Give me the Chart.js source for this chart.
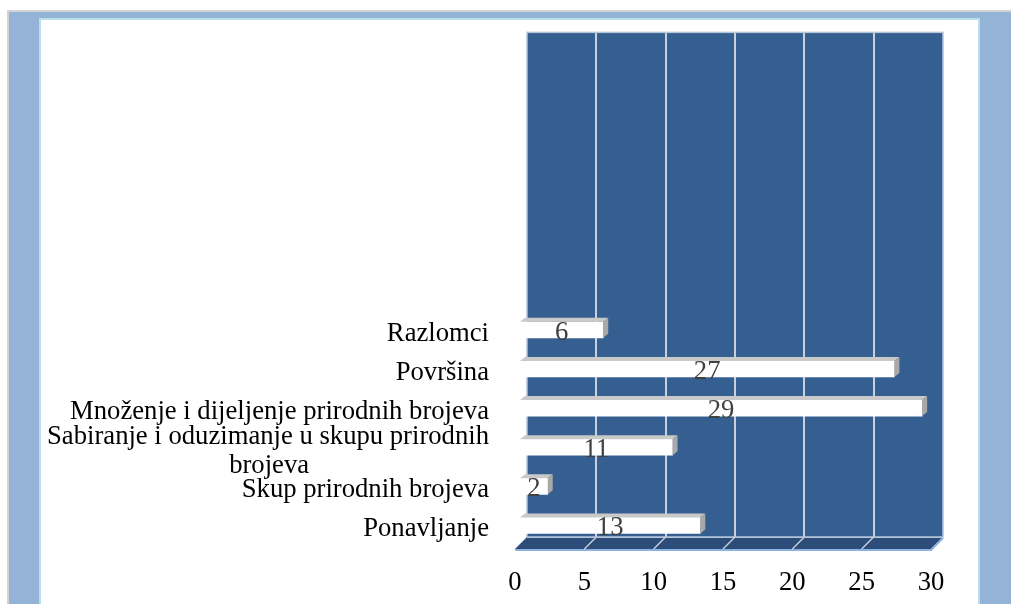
<!DOCTYPE html>
<html><head><meta charset="utf-8">
<script src="https://cdn.jsdelivr.net/npm/chart.js@4/dist/chart.umd.min.js"></script>
<style>
html,body{margin:0;padding:0;background:#fff;width:1011px;height:604px;overflow:hidden}
#frame{position:absolute;left:7px;top:10px;width:1004px;height:594px;background:#95b3d7;border-top:2px solid #d3d3d3;border-left:2px solid #d3d3d3;box-sizing:border-box}
#panel{position:absolute;left:39px;top:18px;width:941px;height:600px;background:#fff;border:2px solid #b9e0ea;box-sizing:border-box}
canvas{position:absolute;left:0;top:0}
</style></head><body>
<div id="frame"></div><div id="panel"></div>
<canvas id="c" width="1011" height="604"></canvas>
<script>
// ---- data ----
const categories = ['Ponavljanje', 'Skup prirodnih brojeva', ['Sabiranje i oduzimanje u skupu prirodnih', 'brojeva'], 'Množenje i dijeljenje prirodnih brojeva', 'Površina', 'Razlomci'];
const values = [13, 2, 11, 29, 27, 6];
const xTicks = [0, 5, 10, 15, 20, 25, 30];
const slotCount = 13; // category slots on the axis (upper ones empty)

const FONT = '"Liberation Serif", "Times New Roman", serif';
const FS = 26.67;
const mctx = document.createElement('canvas').getContext('2d');
function centerLines(lines, px) {
  mctx.font = px + 'px ' + FONT;
  const w = lines.map(l => mctx.measureText(l).width);
  const max = Math.max(...w);
  const sp = mctx.measureText(' ').width;
  return lines.map((l, i) => l + ' '.repeat(Math.round((max - w[i]) / 2 / sp)));
}

const DEPTH = {x: 12, y: -12};
const BAR = {x: 5, y: -4};

const threeD = {
  id: 'threeD',
  beforeDatasetsDraw(chart) {
    const {ctx, chartArea: ca, scales: {x}} = chart;
    ctx.save();
    // back wall
    const wl = ca.left + DEPTH.x, wr = ca.right + DEPTH.x;
    const wt = ca.top - 8, wb = ca.bottom + DEPTH.y;
    ctx.fillStyle = '#365f91';
    ctx.fillRect(wl, wt, wr - wl, wb - wt);
    // gridlines on wall
    ctx.strokeStyle = '#cbd1da';
    ctx.lineWidth = 2;
    xTicks.forEach(v => {
      if (v === 0 || v === 30) return;
      const px = Math.round(x.getPixelForValue(v)) + DEPTH.x;
      ctx.beginPath(); ctx.moveTo(px, wt); ctx.lineTo(px, wb); ctx.stroke();
    });
    ctx.strokeStyle = '#b4c4da';
    ctx.lineWidth = 1.5;
    ctx.strokeRect(wl, wt, wr - wl, wb - wt);
    // floor
    ctx.fillStyle = '#2c4d7a';
    ctx.beginPath();
    ctx.moveTo(ca.left, ca.bottom);
    ctx.lineTo(ca.right, ca.bottom);
    ctx.lineTo(ca.right + DEPTH.x, ca.bottom + DEPTH.y);
    ctx.lineTo(ca.left + DEPTH.x, ca.bottom + DEPTH.y);
    ctx.closePath();
    ctx.fill();
    ctx.strokeStyle = '#b4c4da';
    ctx.lineWidth = 1;
    ctx.beginPath();
    ctx.moveTo(ca.left + DEPTH.x, ca.bottom + DEPTH.y + 0.5);
    ctx.lineTo(ca.right + DEPTH.x, ca.bottom + DEPTH.y + 0.5);
    ctx.stroke();
    ctx.strokeStyle = '#c5cdd8';
    ctx.lineWidth = 1.5;
    xTicks.forEach(v => {
      if (v === 0 || v === 30) return;
      const px = x.getPixelForValue(v);
      ctx.beginPath(); ctx.moveTo(px, ca.bottom); ctx.lineTo(px + DEPTH.x, ca.bottom + DEPTH.y); ctx.stroke();
    });
    ctx.strokeStyle = '#8db3e2';
    ctx.lineWidth = 2;
    ctx.beginPath();
    ctx.moveTo(ca.left, ca.bottom + 1);
    ctx.lineTo(ca.right, ca.bottom + 1);
    ctx.lineTo(ca.right + DEPTH.x, ca.bottom + DEPTH.y + 1);
    ctx.stroke();
    ctx.restore();
    ctx.save();
    ctx.translate(BAR.x, BAR.y);
  },
  afterDatasetsDraw(chart) {
    const {ctx} = chart;
    const meta = chart.getDatasetMeta(0);
    meta.data.forEach((el, i) => {
      const p = el.getProps(['x', 'y', 'base', 'height'], true);
      const top = p.y - p.height / 2, bot = p.y + p.height / 2;
      // top face
      ctx.fillStyle = '#c9c9c9';
      ctx.beginPath();
      ctx.moveTo(p.base, top); ctx.lineTo(p.x, top);
      ctx.lineTo(p.x + BAR.x, top + BAR.y); ctx.lineTo(p.base + BAR.x, top + BAR.y);
      ctx.closePath(); ctx.fill();
      // right face
      ctx.fillStyle = '#a9a9a9';
      ctx.beginPath();
      ctx.moveTo(p.x, top); ctx.lineTo(p.x + BAR.x, top + BAR.y);
      ctx.lineTo(p.x + BAR.x, bot + BAR.y); ctx.lineTo(p.x, bot);
      ctx.closePath(); ctx.fill();
      // value label
      ctx.fillStyle = '#404040';
      ctx.font = FS + 'px ' + FONT;
      ctx.textAlign = 'center';
      ctx.textBaseline = 'middle';
      ctx.fillText(String(values[i]), (p.base + p.x) / 2, p.y + 3);
    });
    ctx.restore();
  }
};

new Chart(document.getElementById('c'), {
  type: 'bar',
  data: {
    datasets: [{
      data: values.map((v, i) => ({x: v, y: i})),
      backgroundColor: '#ffffff',
      borderWidth: 0,
      barThickness: 16
    }]
  },
  options: {
    indexAxis: 'y',
    responsive: false,
    animation: false,
    layout: {padding: {top: 40, right: 80, bottom: 0, left: 0}},
    plugins: {legend: {display: false}, tooltip: {enabled: false}},
    scales: {
      x: {
        type: 'linear', min: 0, max: 30, bounds: 'data', offset: false,
        afterBuildTicks: a => { a.ticks = xTicks.map(v => ({value: v})); },
        grid: {display: false, drawTicks: false, offset: false},
        border: {display: false},
        ticks: {color: '#000', font: {family: FONT, size: FS}, padding: 18, stepSize: 5},
        afterFit: s => { s.height = 55; }
      },
      y: {
        type: 'linear', min: -0.5, max: slotCount - 0.5, bounds: 'data', offset: false,
        afterBuildTicks: a => { a.ticks = categories.map((c, i) => ({value: i})); },
        grid: {display: false, drawTicks: false, offset: false},
        border: {display: false},
        ticks: {
          stepSize: 1,
          color: '#000', font: {family: FONT, size: FS, lineHeight: 1.08}, padding: 26,
          callback: v => { const c = categories[v]; return Array.isArray(c) ? centerLines(c, FS) : c; }
        },
        afterFit: s => { s.width = 515; }
      }
    }
  },
  plugins: [threeD]
});
</script>
</body></html>
